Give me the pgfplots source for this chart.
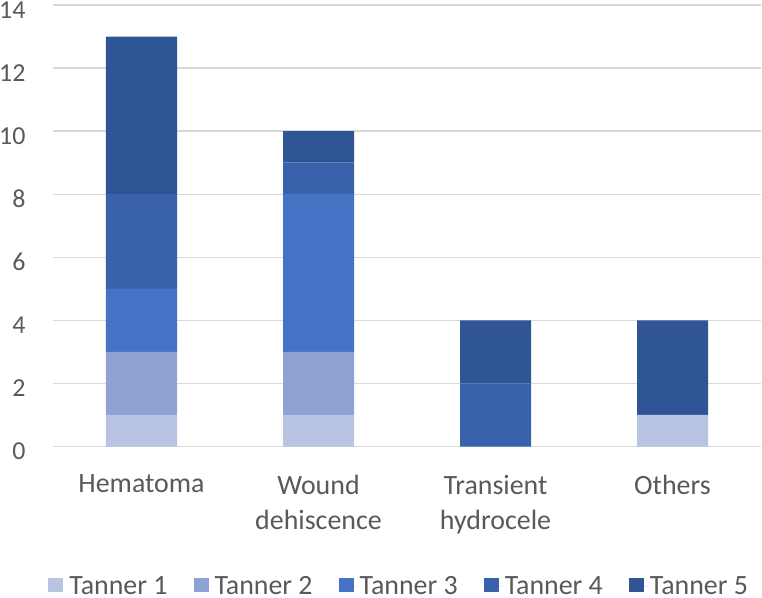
\documentclass[border=0pt]{standalone}
\usepackage{pgfplots}
\pgfplotsset{compat=1.18}
\usepackage{fontspec}
\setmainfont{Carlito}
\definecolor{tone1}{HTML}{B9C3E2}
\definecolor{tone2}{HTML}{8FA2D4}
\definecolor{tone3}{HTML}{4472C4}
\definecolor{tone4}{HTML}{3A62AA}
\definecolor{tone5}{HTML}{2F5597}
\definecolor{gridgray}{HTML}{D9D9D9}
\definecolor{labelgray}{HTML}{595959}
\begin{document}
\begin{tikzpicture}
\begin{axis}[
  name=ax,
  scale only axis,
  width=708bp, height=441.5bp,
  ybar stacked,
  bar width=71bp,
  xmin=-0.5, xmax=3.5,
  ymin=0, ymax=14,
  ytick={0,2,...,14},
  xtick={0,1,2,3},
  xticklabels={Hematoma,{Wound\\dehiscence},{Transient\\hydrocele},Others},
  axis line style={draw=none},
  major tick length=0pt,
  ymajorgrids,
  grid style={gridgray, line width=1.4bp},
  tick label style={text=labelgray},
  /pgf/number format/assume math mode=true,
  xticklabel style={font=\fontsize{28}{35}\selectfont, align=center, yshift=-25bp},
  yticklabel style={font=\fontsize{26}{30}\selectfont, xshift=-24bp, yshift=-5bp},
  legend columns=5,
  legend style={draw=none, fill=none, font=\fontsize{28}{30}\selectfont,
    text=labelgray, at={(0.489,-0.316)}, anchor=center,
    /tikz/every even column/.append style={column sep=24bp}},
  legend image code/.code={
    \path (0bp,0bp) -- (19bp,0bp);
    \fill[#1] (0bp,-6bp) rectangle (15bp,8bp);},
]
\addplot+[fill=tone1, draw=none] coordinates {(0,1) (1,1) (2,0) (3,1)};
\addlegendentry{Tanner 1}
\addplot+[fill=tone2, draw=none] coordinates {(0,2) (1,2) (2,0) (3,0)};
\addlegendentry{Tanner 2}
\addplot+[fill=tone3, draw=none] coordinates {(0,2) (1,5) (2,0) (3,0)};
\addlegendentry{Tanner 3}
\addplot+[fill=tone4, draw=none] coordinates {(0,3) (1,1) (2,2) (3,0)};
\addlegendentry{Tanner 4}
\addplot+[fill=tone5, draw=none] coordinates {(0,5) (1,1) (2,2) (3,3)};
\addlegendentry{Tanner 5}
\end{axis}
\pgfresetboundingbox
\path ([shift={(-53bp,-151bp)}]ax.south west) rectangle ([shift={(1bp,5bp)}]ax.north east);
\end{tikzpicture}
\end{document}
